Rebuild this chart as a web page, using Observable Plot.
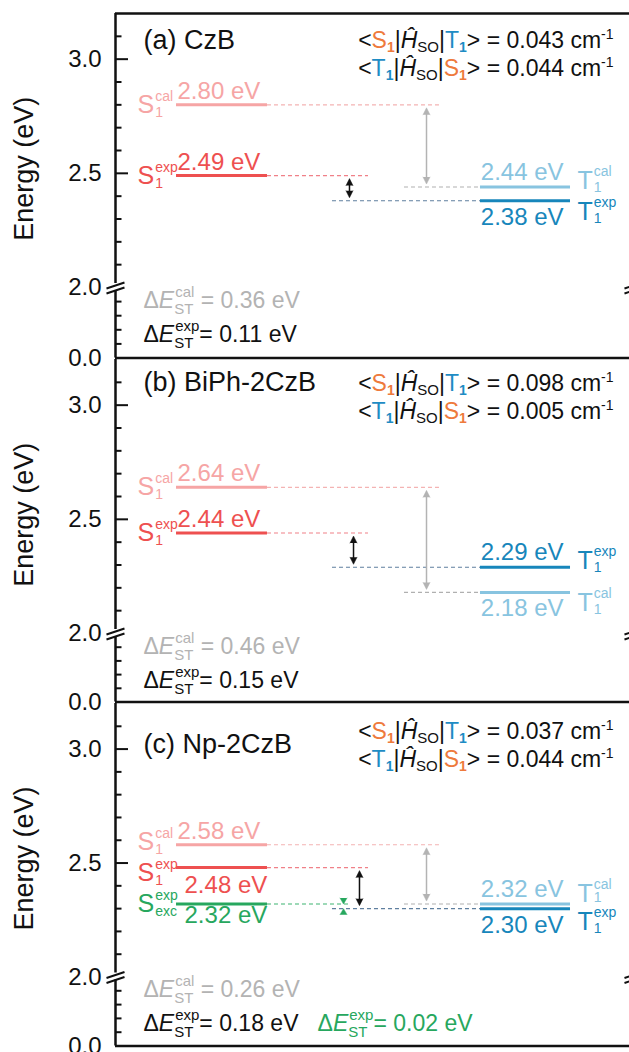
<!DOCTYPE html>
<html><head><meta charset="utf-8">
<script src="https://cdn.jsdelivr.net/npm/d3@7"></script>
<script src="https://cdn.jsdelivr.net/npm/@observablehq/plot@0.6"></script>
<style>
html,body{margin:0;padding:0;background:#fff;overflow:hidden;width:629px;height:1052px}
#chart svg{display:block;overflow:visible}
</style></head><body><div id="chart"></div>
<script>
const FONT = '"Liberation Sans", Arial, Helvetica, sans-serif';

// ---------------- data ----------------
const panelNames = ["(a) CzB", "(b) BiPh-2CzB", "(c) Np-2CzB"];
const s1Cal   = [2.80, 2.64, 2.58];
const s1Exp   = [2.49, 2.44, 2.48];
const sExcExp = [null, null, 2.32];
const t1Cal   = [2.44, 2.18, 2.32];
const t1Exp   = [2.38, 2.29, 2.30];
const socS1T1 = ["0.043", "0.098", "0.037"];
const socT1S1 = ["0.044", "0.005", "0.044"];
const dEstCal = ["0.36", "0.46", "0.26"];
const dEstExp = ["0.11", "0.15", "0.18"];
const dEstExc = [null, null, "0.02"];
const majorTicks = [0, 2.0, 2.5, 3.0];
const majorInner = [2.5, 3.0];
const upperMinor = [2.1, 2.2, 2.3, 2.4, 2.6, 2.7, 2.8, 2.9, 3.1];
const lowerMinor = [0.4, 0.8, 1.2, 1.6];
const breakVal = 2.0, yMax = 3.2;

// ---------------- layout ----------------
const W = 629, X0 = 115, X1 = 633, FW = X1 - X0;
const svgHeight   = [359, 344, 349];
const frameTop    = [13, 0, 0];
const breakPx     = [287, 274, 273.5];
const frameBottom = [357.5, 342.5, 342.5];
const col = {
  sLabel: 0.0425, levelL: 0.1178, levelR: 0.2934,
  tLevelL: 0.7046, tLevelR: 0.8784, tValueEnd: 0.8649, tLabel: 0.8919,
  s1CalDashEnd: 0.6274, s1ExpDashEnd: 0.4884, sExcDashEnd: 0.4498,
  t1ExpDashStart: 0.4189, t1CalDashStart: 0.5579,
  greyArrow: 0.6004, excArrow: 0.4402, title: 0.054, soc: 0.9614, dE: 0.054, dEexc: 0.39
};
const expArrowX = [0.4517, 0.4595, 0.471];
const titleDy = [35, 31, 49];
const socDy = [34, 31, 35];

const C = {
  k: "#111111", grey: "#b3b3b3",
  s1Cal: "#f6a5a5", s1Exp: "#ee5050", sExc: "#27a75e", t1Cal: "#88c4e0", t1Exp: "#1786bb",
  s1CalDash: "#f4b3b3", s1ExpDash: "#f08088", sExcDash: "#3cb371", t1CalDash: "#b0b0b0", t1ExpDash: "#5f7f9f",
  socS: "#ee7a3c", socT: "#1e8cc4"
};

// ---------------- rich text helper ----------------
const ctx = document.createElement("canvas").getContext("2d");
const fontStr = r => `${r.italic ? "italic " : ""}${r.bold ? "bold " : ""}${r.size}px ${FONT}`;
function tw(r) { ctx.font = fontStr(r); return ctx.measureText(r.t).width; }
function rich(x, y, runs, {anchor = "start", dx = 0, dy = 0} = {}) {
  const placed = []; let cur = 0;
  for (const r of runs) {
    if (r.stack) {
      let w = 0;
      for (const s of r.stack) { placed.push({...s, off: cur + (s.shift || 0)}); w = Math.max(w, tw(s) + (s.shift || 0)); }
      cur += w + (r.gap || 0);
    } else { placed.push({...r, off: cur}); cur += tw(r) + (r.gap || 0); }
  }
  const start = anchor === "end" ? -cur : anchor === "middle" ? -cur / 2 : 0;
  return placed.map(p => Plot.text([{x, y, t: p.t}], {
    x: "x", y: "y", text: "t", textAnchor: "start", lineAnchor: "bottom",
    dx: dx + start + p.off, dy: dy + (p.rise || 0), fontSize: p.size, fill: p.fill,
    fontFamily: FONT, fontStyle: p.italic ? "italic" : "normal", fontWeight: p.bold ? "bold" : "normal"
  }));
}

function panel(i) {
  const ePerPx = (yMax - breakVal) / (breakPx[i] - frameTop[i]);
  const fx = px => px / FW;
  const marks = [];

  // levels
  const sLevels = [
    {E: s1Cal[i], side: "S", color: C.s1Cal, dash: C.s1CalDash, d1: col.levelR, d2: col.s1CalDashEnd, sup: "cal", sub: "1"},
    {E: s1Exp[i], side: "S", color: C.s1Exp, dash: C.s1ExpDash, d1: col.levelR, d2: col.s1ExpDashEnd, sup: "exp", sub: "1"}
  ];
  if (sExcExp[i] != null) sLevels.push({E: sExcExp[i], side: "S", color: C.sExc, dash: C.sExcDash, d1: col.levelR, d2: col.sExcDashEnd, sup: "exp", sub: "exc"});
  sLevels.forEach((L, k) => {
    L.gapAbove = k > 0 ? sLevels[k - 1].E - L.E : Infinity;
    L.gapBelow = k < sLevels.length - 1 ? L.E - sLevels[k + 1].E : Infinity;
    L.above = k === 0 || (k === 1 && sLevels.length === 2 && L.gapAbove > 0.15);
  });
  const tLevels = [
    {E: t1Cal[i], side: "T", color: C.t1Cal, dash: C.t1CalDash, d1: col.t1CalDashStart, d2: col.tLevelL, sup: "cal", sub: "1", above: t1Cal[i] >= t1Exp[i]},
    {E: t1Exp[i], side: "T", color: C.t1Exp, dash: C.t1ExpDash, d1: col.t1ExpDashStart, d2: col.tLevelL, sup: "exp", sub: "1", above: t1Exp[i] > t1Cal[i]}
  ];
  const tGap = Math.abs(t1Cal[i] - t1Exp[i]);
  const levels = sLevels.concat(tLevels);

  // frame
  marks.push(Plot.ruleX([0], {y1: 0, y2: yMax, stroke: C.k, strokeWidth: 2.5}));
  marks.push(Plot.ruleY([0], {x1: 0, x2: 1, stroke: C.k, strokeWidth: 2.5}));
  if (i === 0) marks.push(Plot.ruleY([yMax], {x1: 0, x2: 1, stroke: C.k, strokeWidth: 2.5}));

  // ticks (inward)
  marks.push(Plot.ruleY(majorInner, {x1: 0, x2: fx(13), stroke: C.k, strokeWidth: 2}));
  marks.push(Plot.ruleY(upperMinor.concat(lowerMinor), {x1: 0, x2: fx(6.5), stroke: C.k, strokeWidth: 2}));
  marks.push(Plot.text(majorTicks, {x: 0, y: d => d, text: d => d.toFixed(1), dx: -14, textAnchor: "end", lineAnchor: "middle", fontSize: 24, fill: C.k, fontFamily: FONT}));
  marks.push(Plot.text(["Energy (eV)"], {x: 0, y: 2.52, text: d => d, dx: -91, rotate: -90, textAnchor: "middle", lineAnchor: "middle", fontSize: 27, fill: C.k, fontFamily: FONT}));

  // axis break marks (left and right)
  const brk = [{a: [-9, 1], b: [9, -5]}, {a: [-9, 6], b: [9, 0]}];
  const maxPy = 6;
  for (const xb of [0, 1]) {
    marks.push(Plot.ruleX([xb], {y1: breakVal, y2: breakVal + 7 * ePerPx, stroke: "white", strokeWidth: 5, dy: 3}));
    marks.push(Plot.link(brk, {
      x1: d => xb + fx(d.a[0]), x2: d => xb + fx(d.b[0]),
      y1: d => breakVal + (maxPy - d.a[1]) * ePerPx, y2: d => breakVal + (maxPy - d.b[1]) * ePerPx,
      dy: maxPy, stroke: C.k, strokeWidth: 2
    }));
  }

  // dashed guides and solid levels
  marks.push(Plot.ruleY(levels, {y: "E", x1: "d1", x2: "d2", stroke: "dash", strokeWidth: 1.1, strokeDasharray: "4,3"}));
  marks.push(Plot.ruleY(levels, {y: "E", x1: d => d.side === "S" ? col.levelL : col.tLevelL, x2: d => d.side === "S" ? col.levelR : col.tLevelR, stroke: "color", strokeWidth: 3}));

  // level labels
  for (const L of levels) {
    const val = L.E.toFixed(2) + " eV";
    if (L.side === "S") {
      const base = 8 + (L.gapAbove < 0.12 ? 5 : 0) - (L.gapBelow < 0.12 ? 3 : 0);
      marks.push(...rich(col.levelL, L.E, [{t: val, size: 24, fill: L.color}], {dx: L.above ? 1 : 8, dy: L.above ? -6 : (L.gapAbove < 0.12 ? 25 : 19)}));
      marks.push(...rich(col.sLabel, L.E, [
        {t: "S", size: 25, fill: L.color},
        {stack: [{t: L.sup, size: 14, fill: L.color, rise: -12, shift: 1}, {t: L.sub, size: 14, fill: L.color, rise: 4, shift: 1}]}
      ], {dy: base}));
    } else {
      const close = tGap < 0.05;
      const base = L.above ? (close ? -2 : 2) : (close ? 21 : 19);
      const subRise = L.above && close ? 0 : 3;
      marks.push(...rich(col.tValueEnd, L.E, [{t: val, size: 24, fill: L.color}], {anchor: "end", dy: L.above ? -7 : 24}));
      marks.push(...rich(col.tLabel, L.E, [
        {t: "T", size: 25, fill: L.color},
        {stack: [{t: L.sup, size: 14, fill: L.color, rise: -13, shift: 1}, {t: L.sub, size: 14, fill: L.color, rise: subRise, shift: 1}]}
      ], {dy: base}));
    }
  }

  // arrows
  const inset = 3 * ePerPx;
  function dblArrow(x, eTop, eBot, color) {
    const a = eTop - inset, b = eBot + inset;
    return [
      Plot.link([{a, b}], {x1: x, x2: x, y1: d => d.a - 4 * ePerPx, y2: d => d.b + 4 * ePerPx, stroke: color, strokeWidth: 1.5}),
      Plot.vector([{y: a, r: 0}, {y: b, r: 180}], {x: x, y: "y", rotate: "r", length: 7, r: 3.5, shape: "spike", anchor: "end", fill: color, stroke: color, strokeWidth: 0.5})
    ];
  }
  marks.push(...dblArrow(expArrowX[i], s1Exp[i], t1Exp[i], C.k));
  marks.push(...dblArrow(col.greyArrow, s1Cal[i], t1Cal[i], C.grey));
  if (sExcExp[i] != null) {
    marks.push(Plot.vector([{y: sExcExp[i], r: 180}, {y: t1Exp[i], r: 0}], {x: col.excArrow, y: "y", rotate: "r", length: 6, r: 3.5, shape: "spike", anchor: "end", fill: C.sExc, stroke: C.sExc, strokeWidth: 0.5}));
  }

  // title
  marks.push(...rich(col.title, yMax, [{t: panelNames[i], size: 27, fill: C.k}], {dy: titleDy[i]}));

  // SOC matrix elements
  const socRuns = (a, ca, b, cb, val) => [
    {t: "<", size: 23, fill: C.k},
    {t: a, size: 23, fill: ca},
    {t: "1", size: 14, fill: ca, bold: true, rise: 4},
    {t: "|", size: 23, fill: C.k},
    {t: "\u0124", size: 23, fill: C.k, italic: true},
    {t: "SO", size: 15, fill: C.k, rise: 4},
    {t: "|", size: 23, fill: C.k},
    {t: b, size: 23, fill: cb},
    {t: "1", size: 14, fill: cb, bold: true, rise: 4},
    {t: "> = " + val + " cm", size: 23, fill: C.k},
    {t: "-1", size: 14, fill: C.k, rise: -9}
  ];
  marks.push(...rich(col.soc, yMax, socRuns("S", C.socS, "T", C.socT, socS1T1[i]), {anchor: "end", dy: socDy[i]}));
  marks.push(...rich(col.soc, yMax, socRuns("T", C.socT, "S", C.socS, socT1S1[i]), {anchor: "end", dy: socDy[i] + 28}));

  // ΔE_ST annotations
  const dERuns = (sup, eq, color) => [
    {t: "\u0394", size: 23, fill: color},
    {t: "E", size: 23, fill: color, italic: true},
    {stack: [{t: sup, size: 15, fill: color, rise: -11, shift: 1}, {t: "ST", size: 15, fill: color, rise: 6}]},
    {t: eq, size: 23, fill: color}
  ];
  marks.push(...rich(col.dE, breakVal, dERuns("cal", " = " + dEstCal[i] + " eV", C.grey), {dy: 20}));
  marks.push(...rich(col.dE, breakVal, dERuns("exp", "= " + dEstExp[i] + " eV", C.k), {dy: 54}));
  if (dEstExc[i] != null) marks.push(...rich(col.dEexc, breakVal, dERuns("exp", "= " + dEstExc[i] + " eV", C.sExc), {dy: 54}));

  return Plot.plot({
    width: W, height: svgHeight[i],
    marginLeft: 0, marginRight: 0, marginTop: 0, marginBottom: 0,
    x: {type: "linear", domain: [0, 1], range: [X0, X1], axis: null},
    y: {type: "linear", domain: [0, breakVal, yMax], range: [frameBottom[i], breakPx[i], frameTop[i]], axis: null},
    color: {type: "identity"},
    style: {overflow: "visible", background: "transparent", fontFamily: FONT},
    marks
  });
}

const root = document.getElementById("chart");
for (let i = 0; i < 3; i++) root.appendChild(panel(i));
</script></body></html>
